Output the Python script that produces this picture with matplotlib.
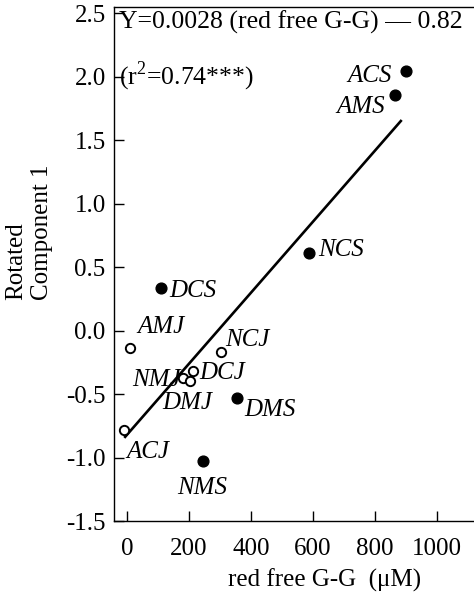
import numpy as np
import matplotlib
matplotlib.use('Agg')
import matplotlib.pyplot as plt

plt.rcParams['font.family'] = ['Liberation Serif', 'DejaVu Serif']
plt.rcParams['mathtext.fontset'] = 'custom'
plt.rcParams['mathtext.rm'] = 'Liberation Serif'

# data
names = ['ACS', 'AMS', 'NCS', 'DCS', 'DMS', 'NMS',
         'AMJ', 'NCJ', 'NMJ', 'DCJ', 'DMJ', 'ACJ']
gg = [900, 865, 587, 110, 356, 244,
      10, 302, 180, 214, 203, -10]
comp1 = [2.05, 1.86, 0.61, 0.34, -0.53, -1.03,
         -0.14, -0.17, -0.37, -0.32, -0.40, -0.78]
filled = [True, True, True, True, True, True,
          False, False, False, False, False, False]

# regression line
slope = 0.0028
intercept = -0.82
fit_x = [-6, 883]

# label offsets (pixels) and alignment
offsets = {'ACS': (-14, -5, 'right'), 'AMS': (-10, -12, 'right'),
           'NCS': (9, 3, 'left'), 'DCS': (8, -3, 'left'),
           'DMS': (7, -12, 'left'), 'NMS': (0, -27, 'center'),
           'AMJ': (7, 21, 'left'), 'NCJ': (5, 12, 'left'),
           'NMJ': (-2, -2, 'right'), 'DCJ': (6, -2, 'left'),
           'DMJ': (-3, -22, 'center'), 'ACJ': (2, -22, 'left')}

fig = plt.figure(figsize=(4.74, 5.93), dpi=100)
ax = fig.add_axes([0.2405, 0.1214, 0.7595, 0.8666])

fx = np.array(fit_x)
ax.plot(fx, slope * fx + intercept, color='black', lw=1.9)

for n, x, y, f in zip(names, gg, comp1, filled):
    if f:
        ax.scatter(x, y, s=60, color='black', zorder=3)
    else:
        ax.scatter(x, y, s=45, facecolor='white', edgecolor='black',
                   linewidth=1.4, zorder=3)
    dx, dy, ha = offsets[n]
    ax.annotate(n, (x, y), xytext=(dx, dy), textcoords='offset pixels',
                ha=ha, va='center', fontsize=18, style='italic')

ax.text(0.015, 0.971, 'Y=0.0028 (red free G-G) \u2014 0.82',
        transform=ax.transAxes, fontsize=18.5, va='center', ha='left')
ax.text(0.015, 0.866, '(r$^2$=0.74***)',
        transform=ax.transAxes, fontsize=18.5, va='center', ha='left')

ax.set_xlim(-42, 1119)
ax.set_ylim(-1.5, 2.55)
ax.set_xticks([0, 200, 400, 600, 800, 1000])
ax.set_yticks(np.arange(-1.5, 2.51, 0.5))
ax.set_yticklabels(['%.1f' % v for v in np.arange(-1.5, 2.51, 0.5)])
ax.tick_params(direction='in', length=7, width=1.0, labelsize=18)
ax.tick_params(axis='x', pad=12)
ax.tick_params(axis='y', pad=6)
ax.spines['right'].set_visible(False)
for s in ['left', 'top', 'bottom']:
    ax.spines[s].set_linewidth(1.0)

fig.text(325 / 474, 1 - 580 / 593, 'red free G-G  (\u03bcM)', fontsize=18,
         ha='center', va='center')
fig.text(29 / 474, 1 - 300 / 593, 'Rotated\nComponent 1', fontsize=18,
         rotation=90, ha='center', va='bottom', multialignment='left',
         linespacing=1.2)

fig.savefig('out.png', dpi=100)
